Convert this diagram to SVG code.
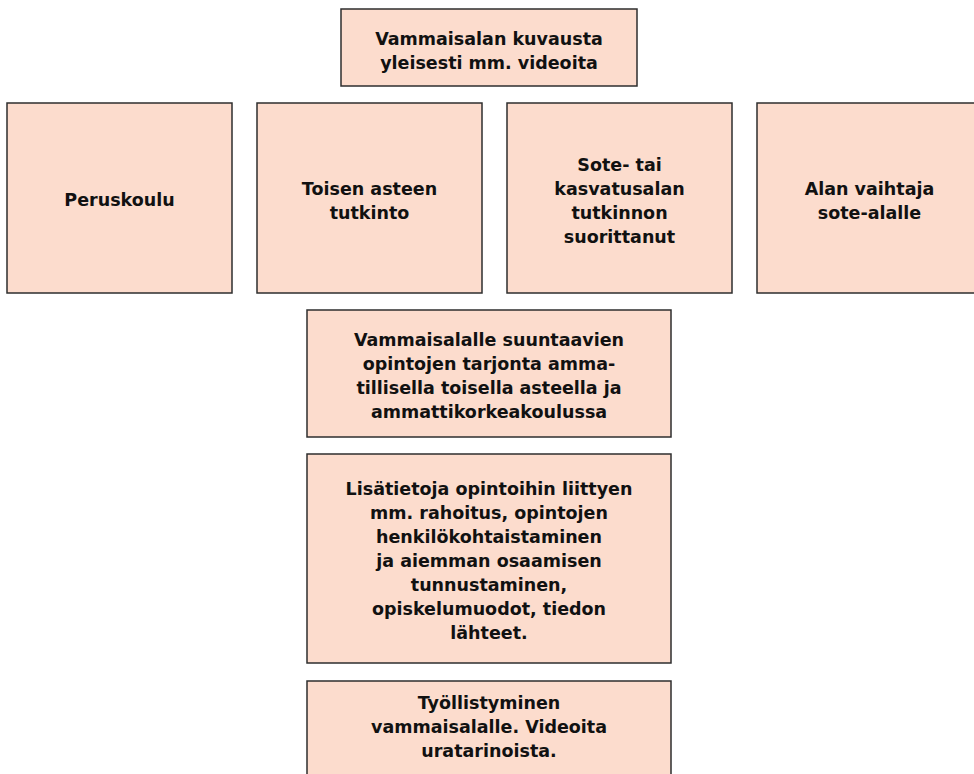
<svg xmlns="http://www.w3.org/2000/svg" width="974" height="774" viewBox="0 0 974 774">
<style>
.box{fill:#fcdccd;stroke:#2e2e2e;stroke-width:1.5}
.t{font-family:"DejaVu Sans","Liberation Sans",sans-serif;font-weight:bold;font-size:17.5px;fill:#111;text-anchor:middle}
</style>
<rect width="974" height="774" fill="#ffffff"/>
<g id="connectors"></g>
<g id="node-top">
<rect class="box" x="341" y="9" width="296" height="77"/>
<text class="t" x="489" y="44.5">Vammaisalan kuvausta</text>
<text class="t" x="489" y="68.5">yleisesti mm. videoita</text>
</g>
<g id="node-peruskoulu">
<rect class="box" x="7" y="103" width="225" height="190"/>
<text class="t" x="119.5" y="206">Peruskoulu</text>
</g>
<g id="node-toisen">
<rect class="box" x="257" y="103" width="225" height="190"/>
<text class="t" x="369.5" y="194.5">Toisen asteen</text>
<text class="t" x="369.5" y="218.5">tutkinto</text>
</g>
<g id="node-sote">
<rect class="box" x="507" y="103" width="225" height="190"/>
<text class="t" x="619.5" y="170.5">Sote- tai</text>
<text class="t" x="619.5" y="194.5">kasvatusalan</text>
<text class="t" x="619.5" y="218.5">tutkinnon</text>
<text class="t" x="619.5" y="242.5">suorittanut</text>
</g>
<g id="node-alan">
<rect class="box" x="757" y="103" width="225" height="190"/>
<text class="t" x="869.5" y="194.5">Alan vaihtaja</text>
<text class="t" x="869.5" y="218.5">sote-alalle</text>
</g>
<g id="node-tarjonta">
<rect class="box" x="307" y="310" width="364" height="127"/>
<text class="t" x="489" y="345.5">Vammaisalalle suuntaavien</text>
<text class="t" x="489" y="369.5">opintojen tarjonta amma-</text>
<text class="t" x="489" y="393.5">tillisella toisella asteella ja</text>
<text class="t" x="489" y="417.5">ammattikorkeakoulussa</text>
</g>
<g id="node-lisatietoja">
<rect class="box" x="307" y="454" width="364" height="209"/>
<text class="t" x="489" y="495">Lisätietoja opintoihin liittyen</text>
<text class="t" x="489" y="519">mm. rahoitus, opintojen</text>
<text class="t" x="489" y="543">henkilökohtaistaminen</text>
<text class="t" x="489" y="567">ja aiemman osaamisen</text>
<text class="t" x="489" y="591">tunnustaminen,</text>
<text class="t" x="489" y="615">opiskelumuodot, tiedon</text>
<text class="t" x="489" y="639">lähteet.</text>
</g>
<g id="node-tyollistyminen">
<rect class="box" x="307" y="681" width="364" height="110"/>
<text class="t" x="489" y="708.5">Työllistyminen</text>
<text class="t" x="489" y="732.5">vammaisalalle. Videoita</text>
<text class="t" x="489" y="756.5">uratarinoista.</text>
</g>
</svg>
